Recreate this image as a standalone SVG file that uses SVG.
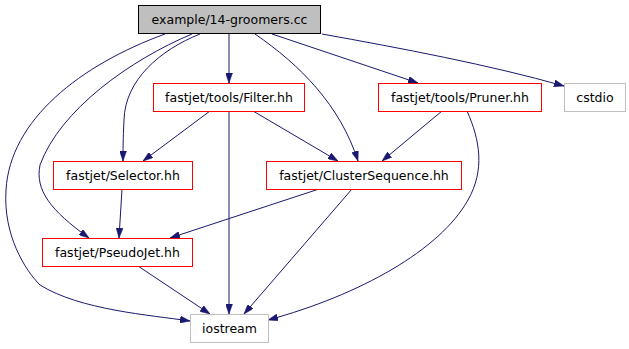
<svg xmlns="http://www.w3.org/2000/svg" width="629" height="349" viewBox="0 0 629 349">
<style>
.n rect{fill:#fff;stroke:#ff0000;stroke-width:1}
.n.root rect{fill:#bfbfbf;stroke:#000}
.n.sys rect{stroke:#bfbfbf}
text{font-family:"DejaVu Sans",sans-serif;font-size:12.5px;text-anchor:middle;fill:#000}
.e path{fill:none;stroke:#191970;stroke-width:1;marker-end:url(#ah)}
</style>
<defs>
<marker id="ah" viewBox="0 0 10 7" refX="10" refY="3.5" markerWidth="10" markerHeight="7" markerUnits="userSpaceOnUse" orient="auto">
<path d="M0,0 L10,3.5 L0,7 z" fill="#191970" stroke="#191970" stroke-width="0.5"/>
</marker>
</defs>
<rect width="629" height="349" fill="#fff"/>
<g class="e" id="edges">
<path d="M229,34 L229,83"/>
<path d="M200,34 C160,50 125,80 124,120 C123,140 123,150 123,161"/>
<path d="M192,34 C130,60 60,110 40,165 C35,190 50,210 89,238"/>
<path d="M165,34 C80,65 10,120 6,190 C3,235 25,270 40,285 C80,310 150,315 190,321"/>
<path d="M255,34 C300,65 340,105 358,161"/>
<path d="M272,34 L418,83"/>
<path d="M322,34 C400,48 490,65 564,86"/>
<path d="M210,111 L143,161"/>
<path d="M253,111 L338,161"/>
<path d="M229,111 L229,314"/>
<path d="M442,111 L382,161"/>
<path d="M467,111 C480,140 485,170 468,200 C440,250 360,295 268,320"/>
<path d="M319,189 L170,238"/>
<path d="M352,189 L244,314"/>
<path d="M122,189 L119,238"/>
<path d="M138,266 L210,314"/>
</g>
<g class="n root" id="node-root"><rect x="138.5" y="5.5" width="182" height="28"/><text x="229.5" y="24">example/14-groomers.cc</text></g>
<g class="n" id="node-filter"><rect x="153.5" y="83.5" width="151" height="28"/><text x="229" y="102">fastjet/tools/Filter.hh</text></g>
<g class="n" id="node-pruner"><rect x="378.5" y="83.5" width="163" height="28"/><text x="460" y="102">fastjet/tools/Pruner.hh</text></g>
<g class="n sys" id="node-cstdio"><rect x="564.5" y="83.5" width="61" height="28"/><text x="595" y="102">cstdio</text></g>
<g class="n" id="node-selector"><rect x="53.5" y="161.5" width="139" height="28"/><text x="123" y="180">fastjet/Selector.hh</text></g>
<g class="n" id="node-cs"><rect x="266.5" y="161.5" width="195" height="28"/><text x="364" y="180">fastjet/ClusterSequence.hh</text></g>
<g class="n" id="node-pseudojet"><rect x="42.5" y="238.5" width="150" height="28"/><text x="117.5" y="257">fastjet/PseudoJet.hh</text></g>
<g class="n sys" id="node-iostream"><rect x="190.5" y="314.5" width="78" height="28"/><text x="229.5" y="333">iostream</text></g>
</svg>
